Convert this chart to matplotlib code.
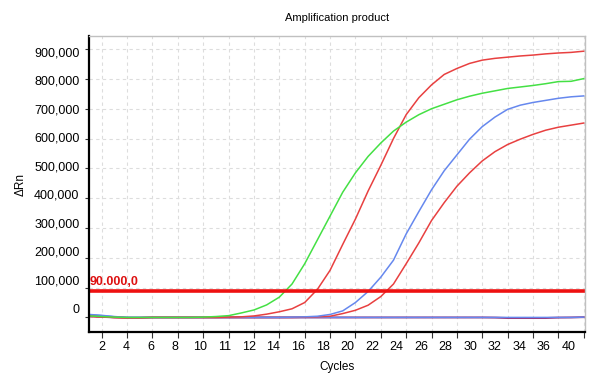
import numpy as np
import matplotlib
matplotlib.use("Agg")
import matplotlib.pyplot as plt

plt.rcParams['font.family'] = ['Liberation Sans', 'DejaVu Sans']

# cycles 1..40
cycles = np.arange(1, 41)

# dRn values
green = [5000, 3000, 1000, 0, 0, 0, 0, 0, 0, 1000,
         3000, 6000, 15000, 25000, 42000, 68000, 112000, 180000, 260000, 340000,
         420000, 485000, 540000, 585000, 625000, 655000, 680000, 700000, 715000, 730000,
         742000, 752000, 760000, 768000, 773000, 778000, 784000, 791000, 792000, 801000]
red_high = [4000, 2000, 0, -1000, -1000, 0, 0, 0, 0, 0,
            0, 1000, 2000, 5000, 11000, 19000, 29000, 50000, 94000, 158000,
            245000, 330000, 424000, 510000, 600000, 680000, 737000, 780000, 815000, 835000,
            852000, 863000, 869000, 873000, 877000, 880000, 884000, 887000, 889000, 893000]
blue_mid = [10000, 7000, 3000, 0, 0, 0, 0, 0, 0, 0,
            0, 0, 0, 0, 0, 0, 1000, 2000, 4000, 10000,
            22000, 50000, 87000, 135000, 192000, 280000, 355000, 428000, 492000, 545000,
            598000, 640000, 672000, 698000, 712000, 721000, 728000, 735000, 740000, 743000]
red_low = [4000, 2000, 0, -1000, -1000, 0, 0, 0, 0, 0,
           0, 0, 0, 0, 0, 0, 0, 1000, 2000, 4000,
           13000, 24000, 41000, 70000, 112000, 180000, 250000, 325000, 385000, 440000,
           485000, 525000, 556000, 580000, 598000, 614000, 628000, 638000, 645000, 652000]
blue_flat = [9000, 6000, 2000, 0, 0, 0, 0, 0, 0, 0,
             0, 0, 0, 0, 0, 0, 0, 0, 0, 0,
             0, 0, 0, 0, 0, 0, 0, 0, 0, 0,
             0, 0, 0, 0, 0, 0, 0, 0, 0, 1000]
red_flat = [4000, 2000, 0, -1000, -1000, 0, 0, 0, 0, 0,
            0, 0, 0, 0, 0, 0, 0, 0, 0, 0,
            0, 0, 0, 0, 0, 0, 0, 0, 0, 0,
            0, 0, -500, -2000, -2000, -2000, -2000, -500, 0, 1000]

threshold = 90000
threshold_label = "90.000,0"

x_tick_labels = ['2', '4', '6', '8', '10', '11', '12', '14', '16', '18',
                 '20', '22', '24', '26', '28', '30', '32', '34', '36', '40']
y_tick_labels = ['0', '100,000', '200,000', '300,000', '400,000',
                 '500,000', '600,000', '700,000', '800,000', '900,000']

fig = plt.figure(figsize=(6.1, 3.73), dpi=100)
ax = fig.add_axes([0.146, 0.109, 0.813, 0.7945])

grid_kw = dict(color='#dddddd', linewidth=0.8, linestyle=(0, (3, 3)))

ax.plot(cycles, red_flat, color='#a03070', linewidth=1.4)
ax.plot(cycles, blue_flat, color='#6688ee', linewidth=1.1)
ax.plot(cycles, red_low, color='#e84040', linewidth=1.1)
ax.plot(cycles, blue_mid, color='#6688ee', linewidth=1.1)
ax.plot(cycles, red_high, color='#e84040', linewidth=1.1)
ax.plot(cycles, green, color='#44e044', linewidth=1.1)

ax.axhline(threshold, color='#ee1111', linewidth=2.6)
ax.text(1.05, threshold + 8000, threshold_label, color='#dd1111',
        fontsize=9, fontweight='bold', ha='left', va='bottom')

ax.set_xlim(1, 40.1)
ax.set_ylim(-50000, 944000)

# tick marks + grid every 2 cycles, labels drawn where the software puts them
ax.set_xticks(np.arange(2, 41, 2), minor=True)
ax.set_xticks(np.linspace(1.98, 38.8, len(x_tick_labels)))
ax.set_xticklabels(x_tick_labels)
ax.tick_params(axis='x', which='major', length=0, pad=6, labelsize=9)
ax.tick_params(axis='x', which='minor', length=4, width=0.8, color='#333333')
ax.xaxis.grid(True, which='minor', **grid_kw)

ax.set_yticks(np.arange(0, 900001, 100000), minor=True)
ax.set_yticks(np.linspace(31000, 891000, len(y_tick_labels)))
ax.set_yticklabels(y_tick_labels)
ax.tick_params(axis='y', which='major', length=0, pad=7, labelsize=9)
ax.tick_params(axis='y', which='minor', length=3, width=0.8, color='#333333')
ax.yaxis.grid(True, which='minor', **grid_kw)
ax.set_axisbelow(True)

for s in ['left', 'bottom']:
    ax.spines[s].set_linewidth(1.6)
    ax.spines[s].set_color('black')
for s in ['top', 'right']:
    ax.spines[s].set_linewidth(1.0)
    ax.spines[s].set_color('#c0c0c0')

ax.set_title('Amplification product', fontsize=8, pad=11)
ax.set_xlabel('Cycles', fontsize=8.5, labelpad=6)
ax.set_ylabel('\u0394Rn', fontsize=8.5, labelpad=5)

plt.savefig('out.png', dpi=100)
